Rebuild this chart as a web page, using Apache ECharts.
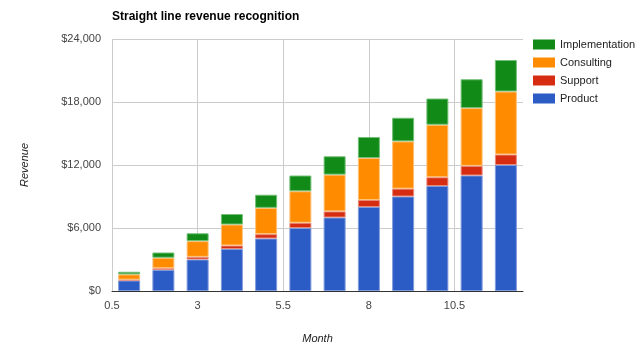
<!DOCTYPE html>
<html><head><meta charset="utf-8">
<script src="https://cdn.jsdelivr.net/npm/echarts@6/dist/echarts.min.js"></script>
<style>html,body{margin:0;padding:0;background:#fff}#c{width:640px;height:357px}</style>
</head><body><div id="c"></div>
<script>
const months = [1,2,3,4,5,6,7,8,9,10,11,12];
const product = [1000,2000,3000,4000,5000,6000,7000,8000,9000,10000,11000,12000];
const support = [83,167,250,333,417,500,583,667,750,833,917,1000];
const consulting = [500,1000,1500,2000,2500,3000,3500,4000,4500,5000,5500,6000];
const implementation = [250,500,750,1000,1250,1500,1750,2000,2250,2500,2750,3000];
const xTicks = [0.5,3,5.5,8,10.5];

const font = "'Liberation Sans', Arial, sans-serif";
function s(name, data, color, border){
  return {name, type:'bar', stack:'total', xAxisIndex:1, data:data, barWidth:22,
    itemStyle:{color, borderColor:border, borderWidth:1}};
}
const chart = echarts.init(document.getElementById('c'), null, {renderer:'canvas'});
chart.setOption({
  animation:false,
  textStyle:{fontFamily:font},
  title:{text:'Straight line revenue recognition', left:107, top:6,
    textStyle:{fontFamily:font, fontSize:12, fontWeight:'bold', color:'#000'}},
  legend:{orient:'vertical', left:528, top:34, itemWidth:22, itemHeight:10, itemGap:7,
    icon:'rect', data:['Implementation','Consulting','Support','Product'],
    itemStyle:{borderWidth:0},
    textStyle:{fontFamily:font, fontSize:11, color:'#222'}},
  grid:{left:112, right:117, top:39, bottom:66, containLabel:false},
  xAxis:[{type:'value', min:0.5, max:12.5,
    name:'Month', nameLocation:'middle', nameGap:42,
    nameTextStyle:{fontFamily:font, fontSize:11, fontStyle:'italic', color:'#222'},
    axisLine:{show:true, lineStyle:{color:'#333', width:1}},
    axisTick:{show:false, customValues:xTicks},
    axisLabel:{customValues:xTicks, color:'#444', fontSize:11, margin:9, fontFamily:font,
      formatter:v=>String(v)},
    splitLine:{show:true, lineStyle:{color:'#ccc', width:1}}},
   {type:'category', data:months, show:false, position:'bottom', boundaryGap:true}],
  yAxis:{type:'value', min:0, max:24000, interval:6000,
    name:'Revenue', nameLocation:'middle', nameGap:82, nameRotate:90,
    nameTextStyle:{fontFamily:font, fontSize:11, fontStyle:'italic', color:'#222'},
    axisLine:{show:false}, axisTick:{show:false},
    axisLabel:{color:'#444', fontSize:11, margin:11, fontFamily:font,
      formatter:v=>'$'+v.toLocaleString('en-US')},
    splitLine:{show:true, lineStyle:{color:'#ccc', width:1}}},
  series:[
    s('Product', product, '#2b5bc5', '#7f9bdc'),
    s('Support', support, '#d62d12', '#e88a7a'),
    s('Consulting', consulting, '#ff8c00', '#ffc27a'),
    s('Implementation', implementation, '#118a17', '#74c078')
  ]
});
</script></body></html>
